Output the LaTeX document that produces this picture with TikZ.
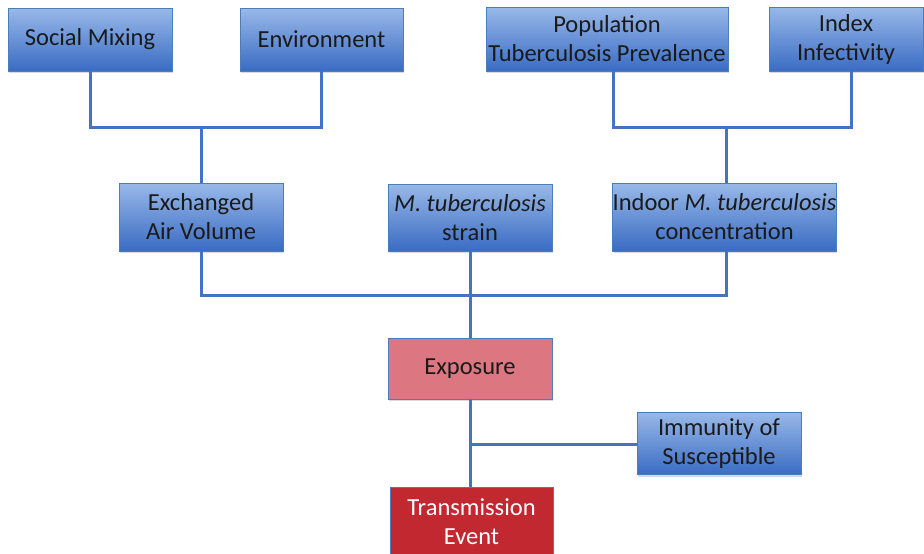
\documentclass[tikz,border=0pt]{standalone}
\usepackage{fontspec}
\setmainfont{Carlito}
\usetikzlibrary{shadows,calc}
\definecolor{bluetop}{RGB}{152,184,232}
\definecolor{bluebot}{RGB}{58,108,196}
\definecolor{blueedge}{RGB}{74,126,187}
\definecolor{linecol}{RGB}{68,114,196}
\definecolor{expfill}{RGB}{220,118,128}
\definecolor{transfill}{RGB}{193,40,47}
\definecolor{txt}{RGB}{26,26,26}
\tikzset{
  basebox/.style={rectangle, draw=blueedge, line width=0.9pt, align=center, inner sep=0pt,
    text=txt, font=\fontsize{24.5}{29}\selectfont,
    drop shadow={shadow xshift=1pt, shadow yshift=-2pt, opacity=0.3}},
  bluebox/.style={basebox, top color=bluetop, bottom color=bluebot},
  expbox/.style={basebox, fill=expfill},
  transbox/.style={basebox, fill=transfill, text=white},
  link/.style={draw=linecol, line width=3pt}
}
\begin{document}
\begin{tikzpicture}[x=1pt,y=-1pt]
\useasboundingbox (0,0) rectangle (924,554);
% top row
\node[bluebox, minimum width=164pt, minimum height=63pt] (soc) at (90,39.5) {Social Mixing};
\node[bluebox, minimum width=163pt, minimum height=63pt] (env) at (321.5,39.5) {Environment};
\node[bluebox, minimum width=242pt, minimum height=64pt] (pop) at (607,39) {Population\\Tuberculosis Prevalence};
\node[bluebox, minimum width=154pt, minimum height=64pt] (idx) at (846,39) {Index\\Infectivity};
% middle row
\node[bluebox, minimum width=164pt, minimum height=68pt] (air) at (201,217) {Exchanged\\Air Volume};
\node[bluebox, minimum width=164pt, minimum height=67pt] (str) at (470,217.5) {\textit{M. tuberculosis}\\strain};
\node[bluebox, minimum width=215pt, minimum height=68pt] (ind) at (724.5,217) {Indoor \textit{M. tuberculosis}\\concentration};
% lower
\node[expbox, minimum width=164pt, minimum height=61pt] (exp) at (470,368.5) {Exposure};
\node[bluebox, minimum width=164pt, minimum height=62pt] (imm) at (719,443.5) {Immunity of\\Susceptible};
\node[transbox, minimum width=163pt, minimum height=70pt, text depth=0pt] (tra) at (471.5,522) {Transmission\\Event};
% coordinates for junctions
\coordinate (j1) at (201,127);
\coordinate (j2) at (726,127);
\coordinate (j3) at (470,295);
\coordinate (j4) at (470,444);
% connectors
\draw[link] (soc.south) |- (j1) -| (env.south);
\draw[link] (j1) -- (air.north);
\draw[link] ($(pop.south)+(6,0)$) |- (j2) -| ($(idx.south)+(5,0)$);
\draw[link] (j2) -- (ind.north -| j2);
\draw[link] (air.south) |- (j3) -| (ind.south -| j2);
\draw[link] (str.south) -- (exp.north);
\draw[link] (exp.south) -- (tra.north -| exp.south);
\draw[link] (j4) -- (j4 -| imm.west);
\end{tikzpicture}
\end{document}
